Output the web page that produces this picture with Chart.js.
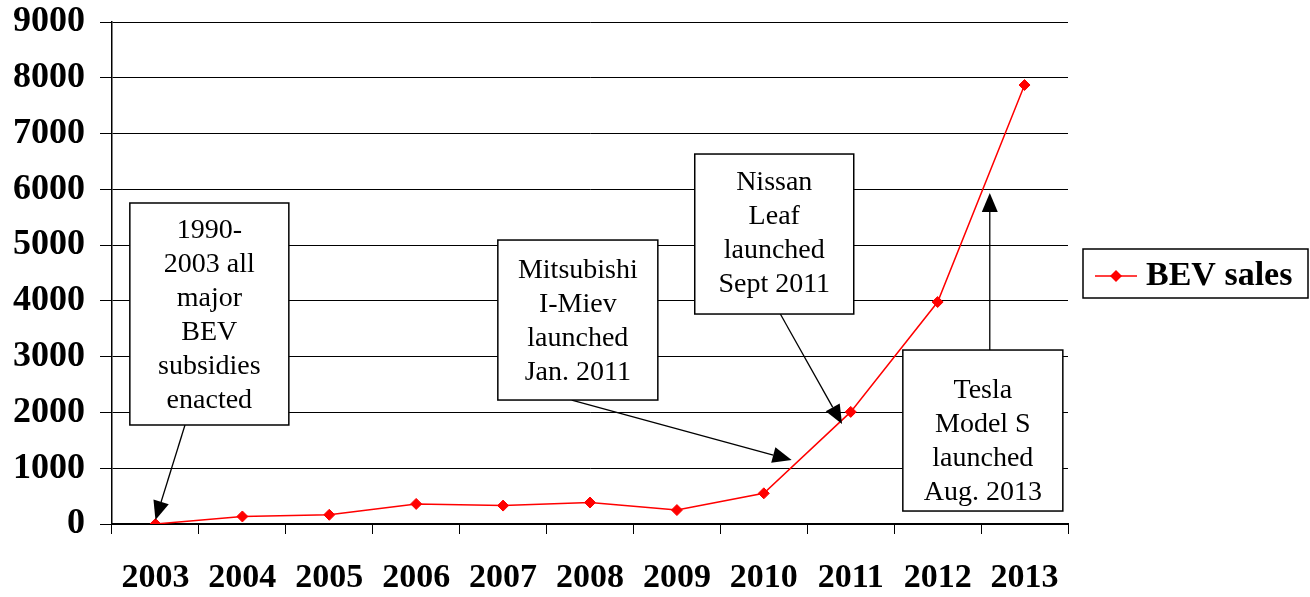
<!DOCTYPE html>
<html>
<head>
<meta charset="utf-8">
<script src="https://cdn.jsdelivr.net/npm/chart.js@4.4.0/dist/chart.umd.min.js"></script>
<style>
  body { margin: 0; background: #fff; }
</style>
</head>
<body>
<canvas id="chart" width="1310" height="597"></canvas>
<script>
// data
const years = ["2003", "2004", "2005", "2006", "2007", "2008", "2009", "2010", "2011", "2012", "2013"];
const bevSales = [0, 135, 165, 360, 330, 385, 250, 550, 2010, 3980, 7870];
const yMin = 0;
const yMax = 9000;
const yStep = 1000;
const seriesName = "BEV sales";

// callout boxes: box centre as category index, top as a value, arrow from/to as [index, value]
const calloutText = [
  ["1990-", "2003 all", "major", "BEV", "subsidies", "enacted"],
  ["Mitsubishi", "I-Miev", "launched", "Jan. 2011"],
  ["Nissan", "Leaf", "launched", "Sept 2011"],
  ["Tesla", "Model S", "launched", "Aug. 2013"]
];
const calloutBox = [
  { cx: 0.62, top: 5755, w: 159, h: 222, shift: 2 },
  { cx: 4.86, top: 5091, w: 160, h: 160, shift: 2 },
  { cx: 7.12, top: 6633, w: 159, h: 160, shift: 0 },
  { cx: 9.52, top: 3119, w: 160, h: 161, shift: 11 }
];
const calloutArrow = [
  { from: [0.34, 1775], to: [0.0, 70] },
  { from: [4.79, 2223], to: [7.32, 1147] },
  { from: [7.19, 3765], to: [7.9, 1793] },
  { from: [9.6, 3119], to: [9.6, 5934] }
];

const serif = "'Liberation Serif', 'Times New Roman', serif";

function drawArrow(ctx, x1, y1, x2, y2) {
  const ang = Math.atan2(y2 - y1, x2 - x1);
  const len = 19, half = 8;
  const bx = x2 - len * Math.cos(ang), by = y2 - len * Math.sin(ang);
  ctx.beginPath();
  ctx.moveTo(x1, y1);
  ctx.lineTo(bx, by);
  ctx.stroke();
  ctx.beginPath();
  ctx.moveTo(x2, y2);
  ctx.lineTo(bx + half * Math.sin(ang), by - half * Math.cos(ang));
  ctx.lineTo(bx - half * Math.sin(ang), by + half * Math.cos(ang));
  ctx.closePath();
  ctx.fill();
}

// draw the text boxes with arrows and the boxed legend
const calloutPlugin = {
  id: "callouts",
  afterDraw(chart) {
    const ctx = chart.ctx;
    const xs = chart.scales.x, ys = chart.scales.y;
    ctx.save();
    ctx.strokeStyle = "#000";
    ctx.fillStyle = "#000";
    ctx.lineWidth = 1.3;
    for (let i = 0; i < calloutText.length; i++) {
      const a = calloutArrow[i];
      drawArrow(ctx, xs.getPixelForValue(a.from[0]), ys.getPixelForValue(a.from[1]),
        xs.getPixelForValue(a.to[0]), ys.getPixelForValue(a.to[1]));
    }
    for (let i = 0; i < calloutText.length; i++) {
      const b = calloutBox[i];
      const cx = xs.getPixelForValue(b.cx);
      const top = ys.getPixelForValue(b.top);
      ctx.fillStyle = "#fff";
      ctx.fillRect(cx - b.w / 2, top, b.w, b.h);
      ctx.lineWidth = 1.5;
      ctx.strokeRect(cx - b.w / 2, top, b.w, b.h);
      ctx.fillStyle = "#000";
      ctx.font = "28px " + serif;
      ctx.textAlign = "center";
      ctx.textBaseline = "middle";
      const lines = calloutText[i];
      const lh = 34;
      const start = top + b.h / 2 - (lines.length - 1) * lh / 2 + b.shift;
      lines.forEach((t, k) => ctx.fillText(t, cx, start + k * lh));
    }

    // legend box
    const area = chart.chartArea;
    const lx = area.right + 15, ly = (area.top + area.bottom) / 2 - 24;
    ctx.lineWidth = 1.5;
    ctx.strokeStyle = "#000";
    ctx.strokeRect(lx, ly, 225, 49);
    const my = ly + 27;
    ctx.strokeStyle = "red";
    ctx.lineWidth = 1.5;
    ctx.beginPath();
    ctx.moveTo(lx + 12, my);
    ctx.lineTo(lx + 54, my);
    ctx.stroke();
    ctx.fillStyle = "red";
    ctx.beginPath();
    ctx.moveTo(lx + 33, my - 6);
    ctx.lineTo(lx + 39, my);
    ctx.lineTo(lx + 33, my + 6);
    ctx.lineTo(lx + 27, my);
    ctx.closePath();
    ctx.fill();
    ctx.fillStyle = "#000";
    ctx.font = "bold 34px " + serif;
    ctx.textAlign = "left";
    ctx.textBaseline = "middle";
    ctx.fillText(seriesName, lx + 63, my);
    ctx.restore();
  }
};

const ctx = document.getElementById("chart");
new Chart(ctx, {
  type: "line",
  data: {
    labels: years,
    datasets: [
      {
        label: seriesName,
        data: bevSales,
        borderColor: "red",
        backgroundColor: "red",
        borderWidth: 1.5,
        pointStyle: "rectRot",
        pointRadius: 5.5,
        pointBorderWidth: 1,
        tension: 0,
      },
    ],
  },
  options: {
    responsive: false,
    animation: false,
    layout: {
      padding: { top: 22, right: 242, left: 0, bottom: 0 },
    },
    plugins: {
      legend: { display: false },
      tooltip: { enabled: false },
    },
    scales: {
      x: {
        offset: true,
        grid: {
          offset: true,
          drawOnChartArea: false,
          drawTicks: true,
          tickLength: 10,
          color: "#000",
        },
        border: { color: "#000", width: 2 },
        ticks: {
          color: "#000",
          padding: 24,
          maxRotation: 0,
          autoSkip: false,
          font: { family: serif, size: 34, weight: "bold" },
        },
        afterFit(scale) {
          scale.height = 73;
          scale.paddingLeft = 0;
          scale.paddingRight = 0;
        },
      },
      y: {
        min: yMin,
        max: yMax,
        ticks: {
          stepSize: yStep,
          color: "#000",
          padding: 15,
          callback: (v) => String(v),
          font: { family: serif, size: 36, weight: "bold" },
        },
        grid: {
          color: "#000",
          lineWidth: 1,
          drawTicks: true,
          tickLength: 12,
        },
        border: { color: "#000", width: 1.5 },
        afterFit(scale) {
          scale.width = 112;
          scale.paddingTop = 0;
          scale.paddingBottom = 0;
        },
      },
    },
  },
  plugins: [calloutPlugin],
});
</script>
</body>
</html>
